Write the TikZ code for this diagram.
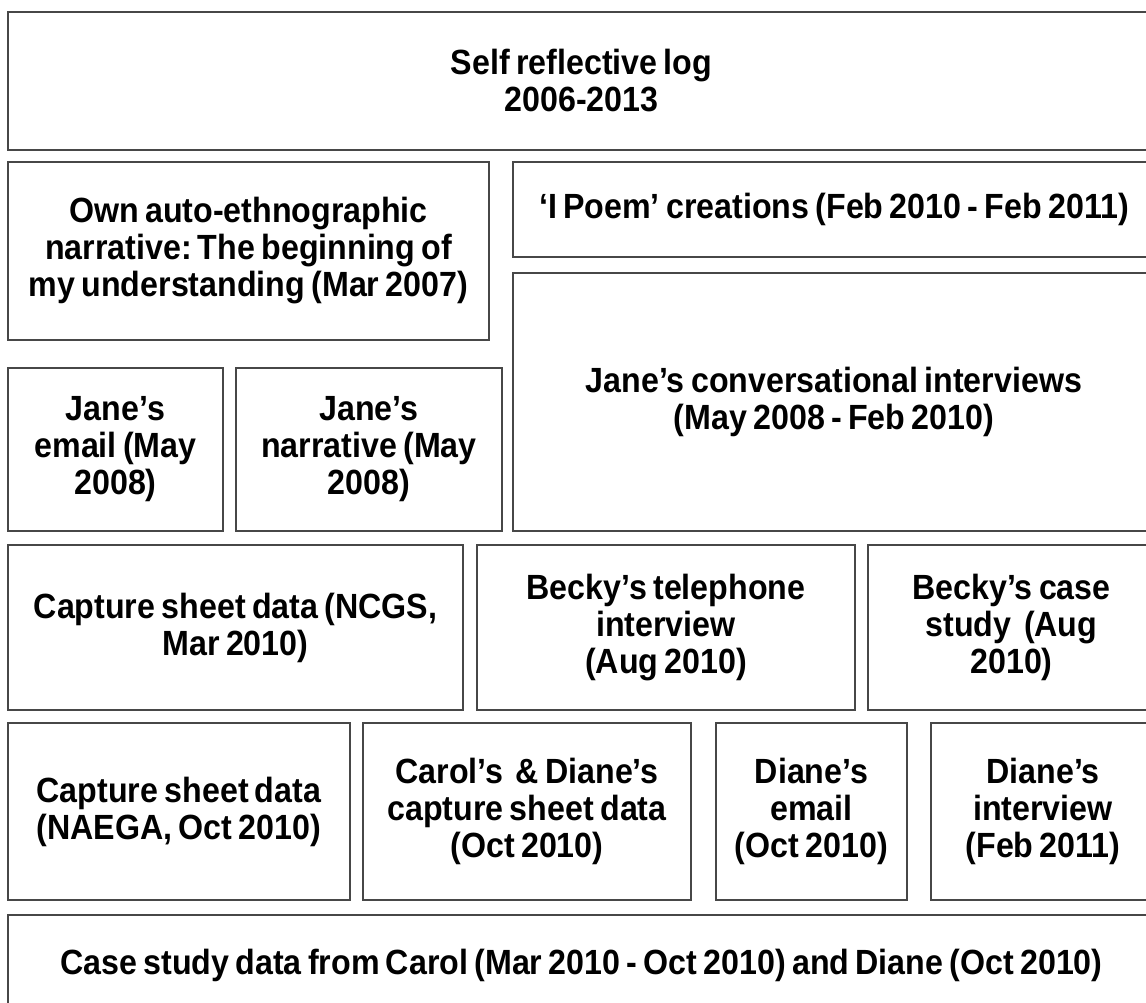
\documentclass[tikz,border=0pt]{standalone}
\usepackage{fontspec}
\setmainfont[FakeStretch=0.92,WordSpace=0.7]{Liberation Sans}
\frenchspacing
\begin{document}
\begin{tikzpicture}[x=1pt,y=-1pt,
  databox/.style={draw=black!72, line width=1.7pt, fill=white,
    inner sep=0pt, outer sep=0pt, align=center,
    font=\fontsize{35}{37}\selectfont\bfseries}]
% \databox{name}{left}{top}{right}{bottom}{text}
\newcommand\databox[6]{%
  \node[databox, minimum width={(#4-#2)*1pt}, minimum height={(#5-#3)*1pt}]
    (#1) at ({(#2+#4)/2},{(#3+#5)/2}) {#6};}
\useasboundingbox (0,0) rectangle (1146,1002);
\clip (0,0) rectangle (1146,1002);
\fill[white] (0,0) rectangle (1146,1002);
% top band
\databox{log}{8}{12}{1155}{150}{Self reflective log\\2006-2013}
% second band
\databox{auto}{8}{162}{489}{340}{Own auto-ethnographic\\narrative: The beginning of\\my understanding (Mar 2007)}
\databox{poem}{513}{162}{1155}{257}{‘I Poem’ creations (Feb 2010 - Feb 2011)}
\databox{janeconv}{513}{273}{1155}{531}{Jane’s conversational interviews\\(May 2008 - Feb 2010)}
\databox{janemail}{8}{368}{223}{531}{Jane’s\\email (May\\2008)}
\databox{janenarr}{236}{368}{502}{531}{Jane’s\\narrative (May\\2008)}
% third band
\databox{ncgs}{8}{545}{463}{710}{Capture sheet data (NCGS,\\Mar 2010)}
\databox{beckytel}{477}{545}{855}{710}{Becky’s telephone\\interview\\(Aug 2010)}
\databox{beckycase}{868}{545}{1155}{710}{Becky’s case\\study\ \ (Aug\\2010)}
% fourth band
\databox{naega}{8}{723}{350}{900}{Capture sheet data\\(NAEGA, Oct 2010)}
\databox{caroldiane}{363}{723}{691}{900}{Carol’s\ \ \& Diane’s\\capture sheet data\\(Oct 2010)}
\databox{dianemail}{716}{723}{907}{900}{Diane’s\\email\\(Oct 2010)}
\databox{dianeint}{931}{723}{1155}{900}{Diane’s\\interview\\(Feb 2011)}
% bottom band
\databox{casestudy}{8}{915}{1155}{1015}{Case study data from Carol (Mar 2010 - Oct 2010) and Diane (Oct 2010)}
\end{tikzpicture}
\end{document}
